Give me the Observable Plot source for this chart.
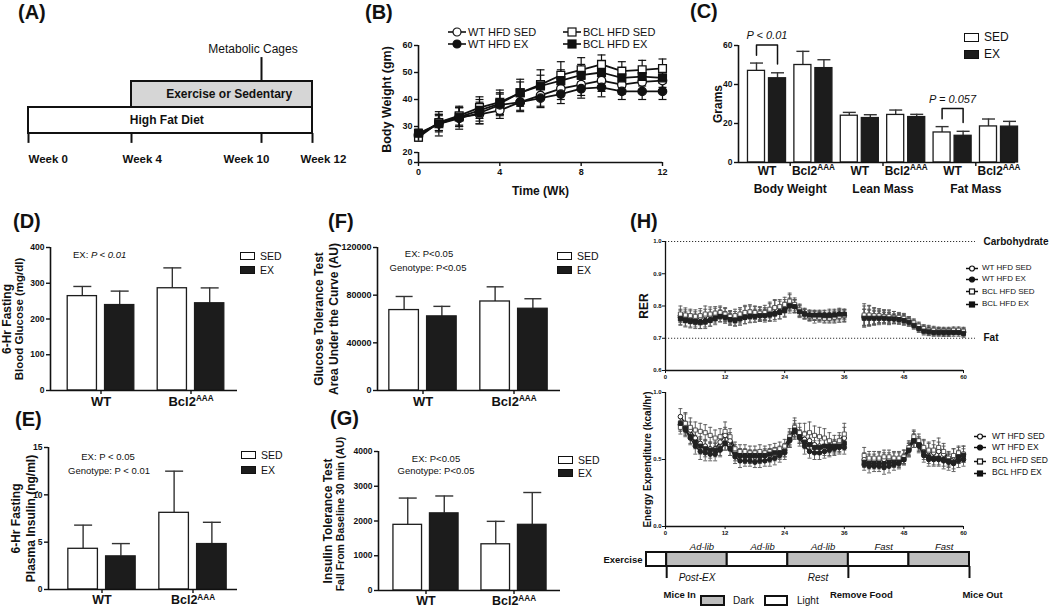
<!DOCTYPE html>
<html>
<head>
<meta charset="utf-8">
<script src="https://cdn.jsdelivr.net/npm/d3@7"></script>
<script src="https://cdn.jsdelivr.net/npm/@observablehq/plot@0.6"></script>
<style>
  html, body { margin: 0; padding: 0; background: #fff; }
  #root { position: relative; width: 1050px; height: 607px; overflow: hidden; background: #fff;
          font-family: "Liberation Sans", Arial, Helvetica, sans-serif; color: #111; }
  .panel { position: absolute; }
  .panel svg { overflow: visible; display: block; max-width: none !important; }
</style>
</head>
<body>
<div id="root"></div>
<script>
// ====================== DATA ======================
// (A) study timeline
const timelineWeeks = [0, 4, 10, 12];
const timelineLabels = ["Week 0", "Week 4", "Week 10", "Week 12"];
const phaseNames = ["High Fat Diet", "Exercise or Sedentary"];
const phaseStart = [0, 4];
const phaseEnd = [12, 12];
const cagesWeek = 10;
const cagesLabel = "Metabolic Cages";

// (B) body weight over time
const seriesNames = ["WT HFD SED", "WT HFD EX", "BCL HFD SED", "BCL HFD EX"];
const bWeeks = [0,1,2,3,4,5,6,7,8,9,10,11,12];
const bWtSed     = [26.5,31.5,33.5,34.5,36,39,41.5,44,45.5,47,45.5,46.5,47];
const bWtSedErr  = [1.5,3,3.5,3.5,3,3.5,4,4,4,4,3.5,3.5,3.5];
const bWtEx      = [27,31,33,35,38,39,40.5,42,44,44.5,43,43,43];
const bWtExErr   = [1.5,4.5,4,4,4,3,3.5,3.5,3.5,3.5,3,3,3];
const bBclSed    = [26,31.5,34,37,39,42.5,45.5,49,51,53,50.5,51,51.5];
const bBclSedErr = [1.5,3,3.5,4,4.5,5,5.5,5,4.5,3.5,3.5,3.5,3.5];
const bBclEx     = [27.5,31,33.5,36,38.5,42.5,45,47,49,50,48,48.5,48];
const bBclExErr  = [1.5,3,3.5,4,4,4,4,4,4,4,3.5,3.5,3.5];

// (C) body composition
const cMeasures = ["Body Weight", "Lean Mass", "Fat Mass"];
const cGroupGenotype = ["WT", "Bcl2AAA", "WT", "Bcl2AAA", "WT", "Bcl2AAA"];
const cSed    = [47, 50, 24, 24.4, 15.4, 18.5];
const cSedErr = [4, 7, 1.7, 2.5, 3, 3.8];
const cEx     = [43.2, 48.4, 22.8, 23.3, 13.7, 18.4];
const cExErr  = [2.8, 4.3, 1.7, 1.4, 2.3, 2.7];
const cBracketGroups = [0, 4];
const cBracketLabels = ["P < 0.01", "P = 0.057"];

// (D)-(G) genotype groups
const genotypes = ["WT", "Bcl2AAA"];
const dSed = [264, 286], dSedErr = [27, 57], dEx = [239, 244], dExErr = [39, 43];
const eSed = [4.3, 8.1], eSedErr = [2.5, 4.4], eEx = [3.5, 4.8], eExErr = [1.35, 2.3];
const fSed = [67500, 74700], fSedErr = [11400, 12300], fEx = [62200, 68600], fExErr = [8400, 8400];
const gSed = [1890, 1330], gSedErr = [770, 660], gEx = [2220, 1890], gExErr = [500, 930];

// (H) metabolic cages: hours since mice in
const hHours = [3,4,5,6,7,8,9,10,11,12, 13,14,15,16,17,18,19,20,21,22,23,24,
  25,26,27,28,29,30,31,32,33,34,35,36, 40,41,42,43,44,45,46,47,48,49,50,51,52,53,54,55,56,57,58,59,60];
const rerWtSed = [0.770,0.768,0.765,0.762,0.765,0.770,0.772,0.775,0.778,0.772,
  0.765,0.765,0.770,0.778,0.780,0.778,0.775,0.775,0.785,0.795,0.795,0.800,
  0.810,0.800,0.785,0.775,0.770,0.770,0.768,0.765,0.765,0.765,0.770,0.770,
  0.770,0.770,0.768,0.768,0.768,0.765,0.765,0.762,0.760,0.752,0.745,0.735,0.728,0.725,0.722,0.722,0.720,0.720,0.722,0.722,0.720];
const rerWtEx = [0.765,0.760,0.755,0.755,0.752,0.755,0.758,0.765,0.770,0.765,
  0.760,0.758,0.762,0.765,0.768,0.770,0.770,0.772,0.775,0.778,0.782,0.790,
  0.805,0.800,0.785,0.778,0.772,0.770,0.770,0.772,0.772,0.772,0.775,0.772,
  0.765,0.765,0.765,0.765,0.765,0.762,0.760,0.760,0.758,0.752,0.742,0.732,0.725,0.722,0.720,0.720,0.718,0.718,0.720,0.720,0.718];
const rerBclSed = [0.775,0.772,0.770,0.768,0.770,0.775,0.775,0.778,0.780,0.775,
  0.768,0.770,0.775,0.780,0.782,0.780,0.778,0.780,0.790,0.795,0.798,0.805,
  0.815,0.805,0.788,0.775,0.768,0.765,0.765,0.762,0.762,0.765,0.768,0.770,
  0.772,0.772,0.770,0.770,0.768,0.768,0.765,0.765,0.762,0.755,0.748,0.738,0.730,0.725,0.725,0.722,0.722,0.722,0.725,0.725,0.722];
const rerBclEx = [0.760,0.755,0.752,0.750,0.748,0.750,0.755,0.760,0.768,0.765,
  0.758,0.755,0.760,0.765,0.768,0.768,0.770,0.770,0.772,0.775,0.780,0.785,
  0.800,0.798,0.782,0.775,0.772,0.772,0.772,0.770,0.770,0.772,0.775,0.775,
  0.762,0.762,0.762,0.762,0.762,0.760,0.760,0.758,0.755,0.750,0.740,0.730,0.722,0.720,0.718,0.718,0.718,0.718,0.718,0.718,0.715];
const rerErrWtSed = [0.020,0.020,0.020,0.020,0.020,0.020,0.018,0.018,0.018,0.020,
  0.018,0.018,0.020,0.020,0.020,0.020,0.020,0.020,0.022,0.022,0.020,0.020,
  0.025,0.020,0.018,0.015,0.015,0.015,0.015,0.015,0.015,0.015,0.020,0.020,
  0.030,0.030,0.025,0.020,0.020,0.020,0.018,0.015,0.015,0.015,0.012,0.012,0.012,0.012,0.012,0.012,0.012,0.012,0.010,0.010,0.012];
const rerErrWtEx = [0.022,0.022,0.020,0.020,0.022,0.020,0.020,0.018,0.018,0.018,
  0.018,0.018,0.018,0.020,0.020,0.020,0.018,0.018,0.020,0.020,0.022,0.022,
  0.020,0.020,0.018,0.015,0.015,0.015,0.015,0.015,0.018,0.018,0.018,0.015,
  0.025,0.025,0.022,0.020,0.020,0.018,0.015,0.015,0.015,0.012,0.012,0.012,0.012,0.012,0.012,0.012,0.012,0.012,0.010,0.010,0.012];
const rerErrBclSed = [0.025,0.022,0.020,0.020,0.022,0.025,0.022,0.020,0.020,0.020,
  0.018,0.020,0.020,0.022,0.022,0.020,0.020,0.022,0.022,0.025,0.022,0.022,
  0.025,0.020,0.018,0.015,0.015,0.018,0.015,0.015,0.015,0.018,0.018,0.018,
  0.035,0.030,0.025,0.022,0.020,0.020,0.018,0.015,0.015,0.012,0.012,0.012,0.012,0.015,0.012,0.012,0.012,0.012,0.010,0.010,0.012];
const rerErrBclEx = [0.020,0.020,0.020,0.020,0.018,0.020,0.018,0.018,0.018,0.018,
  0.018,0.018,0.020,0.020,0.018,0.018,0.018,0.020,0.020,0.022,0.020,0.020,
  0.022,0.020,0.018,0.015,0.015,0.015,0.015,0.015,0.015,0.015,0.015,0.015,
  0.028,0.025,0.022,0.020,0.018,0.018,0.015,0.015,0.015,0.012,0.012,0.012,0.012,0.012,0.012,0.012,0.012,0.012,0.012,0.012,0.012];
const rerRefValues = [1.0, 0.7];
const rerRefLabels = ["Carbohydrate", "Fat"];

const eeWtSed = [0.82,0.77,0.72,0.66,0.62,0.60,0.58,0.58,0.63,0.68,
  0.64,0.56,0.53,0.52,0.52,0.52,0.52,0.53,0.53,0.54,0.55,0.57,
  0.65,0.72,0.68,0.65,0.64,0.61,0.60,0.59,0.58,0.59,0.62,0.66,
  0.50,0.49,0.49,0.50,0.50,0.50,0.50,0.50,0.52,0.58,0.65,0.62,0.58,0.56,0.55,0.56,0.54,0.50,0.52,0.53,0.54];
const eeWtEx = [0.76,0.72,0.66,0.60,0.56,0.55,0.54,0.54,0.57,0.62,
  0.58,0.52,0.49,0.49,0.49,0.48,0.49,0.49,0.50,0.51,0.53,0.55,
  0.64,0.71,0.66,0.60,0.56,0.55,0.55,0.56,0.57,0.58,0.59,0.59,
  0.46,0.45,0.45,0.45,0.44,0.45,0.46,0.47,0.50,0.57,0.64,0.60,0.53,0.50,0.50,0.50,0.49,0.48,0.47,0.49,0.50];
const eeBclSed = [0.74,0.77,0.74,0.72,0.71,0.70,0.68,0.66,0.67,0.71,
  0.67,0.58,0.56,0.56,0.55,0.55,0.56,0.55,0.56,0.57,0.58,0.60,
  0.67,0.74,0.70,0.69,0.70,0.68,0.67,0.66,0.64,0.62,0.64,0.69,
  0.53,0.51,0.51,0.51,0.52,0.52,0.51,0.51,0.52,0.59,0.67,0.64,0.59,0.57,0.57,0.59,0.56,0.51,0.53,0.55,0.54];
const eeBclEx = [0.77,0.73,0.67,0.63,0.60,0.58,0.57,0.57,0.58,0.62,
  0.58,0.54,0.53,0.53,0.53,0.53,0.53,0.53,0.54,0.55,0.55,0.56,
  0.65,0.72,0.67,0.63,0.61,0.59,0.59,0.60,0.60,0.60,0.60,0.62,
  0.48,0.47,0.47,0.47,0.47,0.48,0.48,0.48,0.50,0.57,0.64,0.61,0.55,0.52,0.51,0.51,0.50,0.49,0.48,0.52,0.53];
const eeErrWtSed = [0.06,0.07,0.06,0.06,0.05,0.05,0.05,0.05,0.05,0.06,
  0.06,0.05,0.05,0.05,0.05,0.05,0.05,0.05,0.05,0.05,0.05,0.05,
  0.06,0.07,0.06,0.06,0.06,0.06,0.06,0.06,0.05,0.05,0.06,0.08,
  0.05,0.05,0.05,0.05,0.05,0.05,0.05,0.05,0.05,0.05,0.06,0.05,0.06,0.06,0.06,0.07,0.06,0.05,0.06,0.06,0.06];
const eeErrWtEx = [0.05,0.05,0.05,0.06,0.06,0.06,0.05,0.05,0.05,0.05,
  0.05,0.05,0.05,0.04,0.04,0.04,0.05,0.04,0.05,0.05,0.05,0.05,
  0.05,0.05,0.06,0.06,0.05,0.05,0.05,0.05,0.05,0.05,0.05,0.05,
  0.04,0.05,0.04,0.04,0.05,0.05,0.04,0.04,0.04,0.05,0.05,0.05,0.05,0.05,0.05,0.05,0.06,0.06,0.06,0.05,0.05];
const eeErrBclSed = [0.05,0.08,0.07,0.06,0.06,0.06,0.06,0.06,0.06,0.07,
  0.06,0.05,0.05,0.05,0.05,0.05,0.05,0.05,0.05,0.05,0.05,0.05,
  0.06,0.07,0.07,0.08,0.08,0.07,0.07,0.07,0.06,0.06,0.06,0.08,
  0.06,0.05,0.05,0.05,0.05,0.05,0.05,0.05,0.05,0.05,0.05,0.05,0.06,0.06,0.07,0.07,0.06,0.05,0.05,0.05,0.06];
const eeErrBclEx = [0.05,0.05,0.05,0.05,0.06,0.06,0.06,0.05,0.05,0.05,
  0.05,0.05,0.05,0.05,0.04,0.04,0.04,0.04,0.04,0.04,0.04,0.04,
  0.05,0.05,0.05,0.05,0.05,0.05,0.05,0.05,0.05,0.05,0.05,0.05,
  0.04,0.04,0.04,0.04,0.04,0.04,0.04,0.04,0.04,0.05,0.05,0.05,0.05,0.05,0.05,0.05,0.05,0.05,0.05,0.05,0.05];

// (H) schedule
const schedStart = [-4, 0, 12, 24, 36, 48];
const schedEnd   = [0, 12, 24, 36, 48, 60];
const schedPhase = ["Light", "Dark", "Light", "Dark", "Light", "Dark"];
const schedFood  = ["", "Ad-lib", "Ad-lib", "Ad-lib", "Fast", "Fast"];
const schedNote  = ["", "Post-EX", "", "Rest", "", ""];
const eventHours = [0, 36, 60];
const eventLabels = ["Mice In", "Remove Food", "Mice Out"];

// ====================== HELPERS ======================
const FONT = '"Liberation Sans", Arial, Helvetica, sans-serif';
const INK = "#111";
const EXFILL = "#1c1c1c";
const root = document.getElementById("root");
const capSym = {draw(ctx, size) { const r = Math.sqrt(size / Math.PI); ctx.moveTo(-r, 0); ctx.lineTo(r, 0); }};
const seriesShape = ["circle", "circle", "square", "square"];
const seriesFilled = [false, true, false, true];

function baseStyle(fs) {
  return {background: "transparent", fontFamily: FONT, fontSize: fs + "px", fontWeight: "bold", overflow: "visible", color: INK};
}
function supify(svg) {
  const NS = "http://www.w3.org/2000/svg";
  svg.querySelectorAll("text").forEach(t => {
    if (t.textContent === "Bcl2AAA" && !t.querySelector("tspan")) {
      const base = t.getAttribute("font-size") || null;
      const big = base ? parseFloat(base) : 12;
      t.textContent = "";
      const a = document.createElementNS(NS, "tspan"); a.textContent = "Bcl2";
      const b = document.createElementNS(NS, "tspan"); b.textContent = "AAA";
      b.setAttribute("dy", String(-0.38 * big));
      b.setAttribute("font-size", String(0.68 * big));
      t.append(a, b);
    }
  });
}
function mount(svg, left, top, w) {
  const d = document.createElement("div");
  d.className = "panel";
  d.style.left = left + "px"; d.style.top = top + "px"; d.style.width = w + "px";
  d.appendChild(svg); root.appendChild(d);
  supify(svg);
}
function txt(x, y, html, o = {}) {
  const d = document.createElement("div");
  const tx = o.anchor === "middle" ? "-50%" : o.anchor === "end" ? "-100%" : "0";
  d.style.cssText = `position:absolute;left:${x}px;top:${y}px;transform:translate(${tx},-50%);` +
    `font-size:${o.size || 10}px;font-weight:${o.weight || "normal"};font-style:${o.style || "normal"};` +
    `line-height:1.15;white-space:nowrap;color:${INK}`;
  d.innerHTML = html;
  root.appendChild(d);
}
function box(x, y, w, h, fill, bw = 1.3) {
  const d = document.createElement("div");
  d.style.cssText = `position:absolute;left:${x}px;top:${y}px;width:${w}px;height:${h}px;box-sizing:border-box;border:${bw}px solid ${INK};background:${fill}`;
  root.appendChild(d);
}
function legendBoxes(x, y1, y2, w, h, textX, fs) {
  box(x, y1, w, h, "#fff"); txt(textX, y1 + h / 2, "SED", {size: fs});
  box(x, y2, w, h, EXFILL); txt(textX, y2 + h / 2, "EX", {size: fs});
}
function legendLine(cx, cy, half, s, r, label, textX, fs, sw) {
  const w = half * 2, h = r * 2 + 4;
  const d = document.createElement("div");
  d.style.cssText = `position:absolute;left:${cx - half}px;top:${cy - h / 2}px;width:${w}px;height:${h}px`;
  const fill = seriesFilled[s] ? INK : "#fff";
  const m = seriesShape[s] === "circle"
    ? `<circle cx="${half}" cy="${h / 2}" r="${r}" fill="${fill}" stroke="${INK}" stroke-width="1.2"/>`
    : `<rect x="${half - r}" y="${h / 2 - r}" width="${2 * r}" height="${2 * r}" fill="${fill}" stroke="${INK}" stroke-width="1.2"/>`;
  d.innerHTML = `<svg width="${w}" height="${h}" style="display:block;overflow:visible"><line x1="0" x2="${w}" y1="${h / 2}" y2="${h / 2}" stroke="${INK}" stroke-width="${sw}"/>${m}</svg>`;
  root.appendChild(d);
  txt(textX, cy, label, {size: fs});
}

// ====================== PANEL A ======================
{
  const phases = phaseNames.map((name, i) => ({name, start: phaseStart[i], end: phaseEnd[i], level: i}));
  const weeks = timelineWeeks.map((w, i) => ({w, label: timelineLabels[i]}));
  const weekDx = [0, -9, -38, -12];
  const mid = d => (d.start + d.end) / 2;
  // schematic (uneven) spacing of the timeline
  const schematic = d3.scaleLinear().domain([0, 4, 10, 12]).range([0, 103, 233, 284]);
  const svg = Plot.plot({
    width: 345, height: 180, marginLeft: 28, marginRight: 33, marginTop: 16, marginBottom: 8,
    x: {domain: [0, 284], transform: schematic, axis: null},
    y: {domain: [-1.5, 4.5], axis: null},
    style: baseStyle(12),
    marks: [
      Plot.rect(phases, {x1: "start", x2: "end", y1: "level", y2: d => d.level + 1,
        fill: d => d.level ? "#d6d6d6" : "#fff", stroke: INK, strokeWidth: 2}),
      Plot.text(phases.filter(d => d.level === 0), {x: mid, y: d => d.level + 0.5, text: "name", dx: -8, fontSize: 12}),
      Plot.text(phases.filter(d => d.level === 1), {x: mid, y: d => d.level + 0.5, text: "name", dx: 11, fontSize: 12}),
      Plot.ruleX(weeks, {x: "w", y1: -0.38, y2: 0, stroke: INK, strokeWidth: 2}),
      ...weeks.map((d, i) => Plot.text([d], {x: "w", y: -1, text: "label", textAnchor: "start", dx: weekDx[i], fontSize: 11.5})),
      Plot.ruleX([cagesWeek], {y1: 2, y2: 2.92, stroke: INK, strokeWidth: 2}),
      Plot.text([cagesLabel], {x: cagesWeek, y: 3.23, dx: -8.5, fontSize: 12, fontWeight: "normal"})
    ]
  });
  mount(svg, 0, 0, 345);
}

// ====================== PANEL B ======================
{
  const vals = [bWtSed, bWtEx, bBclSed, bBclEx];
  const errs = [bWtSedErr, bWtExErr, bBclSedErr, bBclExErr];
  const rows = [];
  vals.forEach((arr, s) => arr.forEach((v, i) => rows.push({s, w: bWeeks[i], v, e: errs[s][i]})));
  const axisSegs = [{x: 0, from: 0, to: 20}, {x: 0, from: 24.5, to: 60}];
  // broken y axis: 0-20 compressed, then 25-60
  const broken = d3.scaleLinear().domain([0, 20, 25, 60]).range([0, 10, 22.5, 117]);
  const svg = Plot.plot({
    width: 340, height: 200, marginLeft: 68, marginRight: 28, marginTop: 45, marginBottom: 38,
    x: {domain: [0, 12]},
    y: {domain: [0, 117], transform: broken},
    style: baseStyle(9),
    marks: [
      Plot.ruleX(rows, {x: "w", y1: d => d.v - d.e, y2: d => d.v + d.e, stroke: INK, strokeWidth: 1.2}),
      Plot.dot(rows, {x: "w", y: d => d.v + d.e, symbol: capSym, r: 4, stroke: INK, fill: "none", strokeWidth: 1.2}),
      Plot.dot(rows, {x: "w", y: d => d.v - d.e, symbol: capSym, r: 4, stroke: INK, fill: "none", strokeWidth: 1.2}),
      Plot.line(rows, {x: "w", y: "v", z: "s", stroke: INK, strokeWidth: 1.8}),
      ...[0, 1, 2, 3].map(s => Plot.dot(rows.filter(d => d.s === s), {x: "w", y: "v", symbol: seriesShape[s],
        r: seriesShape[s] === "circle" ? 4.2 : 4.4, fill: seriesFilled[s] ? INK : "#fff", stroke: INK, strokeWidth: 1.3})),
      Plot.ruleX(axisSegs, {x: "x", y1: "from", y2: "to", stroke: INK, strokeWidth: 1.6}),
      Plot.ruleY([0], {stroke: INK, strokeWidth: 1.6}),
      Plot.axisY([0, 20, 30, 40, 50, 60], {tickSize: 4, tickPadding: 2, strokeWidth: 1.4, fontSize: 9, label: null}),
      Plot.axisX({ticks: [0, 4, 8, 12], tickSize: 4, tickPadding: 2, strokeWidth: 1.4, fontSize: 9, label: null}),
      Plot.text(["Body Weight (gm)"], {frameAnchor: "left", rotate: -90, textAnchor: "middle", lineAnchor: "middle", dx: -32, dy: -4.5, fontSize: 12.5}),
      Plot.text(["Time (Wk)"], {frameAnchor: "bottom", textAnchor: "middle", dy: 32, fontSize: 12})
    ]
  });
  mount(svg, 350, 0, 340);
  legendLine(457, 32, 9, 0, 4, seriesNames[0], 468, 11, 1.6);
  legendLine(457, 44, 9, 1, 4, seriesNames[1], 468, 11, 1.6);
  legendLine(572, 32, 9, 2, 4, seriesNames[2], 583, 11, 1.6);
  legendLine(572, 44, 9, 3, 4, seriesNames[3], 583, 11, 1.6);
}

// ====================== BAR PANELS ======================
function barPanel(c) {
  const bars = [];
  c.sed.forEach((v, i) => {
    bars.push({i, cond: "SED", v, e: c.sedErr[i], x1: i + c.frac[0][0], x2: i + c.frac[0][1]});
    bars.push({i, cond: "EX", v: c.ex[i], e: c.exErr[i], x1: i + c.frac[1][0], x2: i + c.frac[1][1]});
  });
  const xd = [(c.axis[0] - c.gs) / c.gw, (c.axis[1] - c.gs) / c.gw];
  const mid = d => (d.x1 + d.x2) / 2;
  const marks = [
    Plot.ruleX(bars, {x: mid, y1: "v", y2: d => d.v + d.e, stroke: "#333", strokeWidth: 1.4}),
    Plot.dot(bars, {x: mid, y: d => d.v + d.e, symbol: capSym, r: c.capR, stroke: "#333", fill: "none", strokeWidth: 1.4}),
    Plot.rect(bars, {x1: "x1", x2: "x2", y1: 0, y2: "v", fill: d => d.cond === "SED" ? "#fff" : EXFILL, stroke: EXFILL, strokeWidth: 1.3}),
    Plot.ruleX([xd[0]], {stroke: INK, strokeWidth: 1.6}),
    Plot.ruleY([0], {stroke: INK, strokeWidth: 1.6}),
    Plot.axisY({ticks: c.yTicks, tickFormat: d3.format("d"), tickSize: 4, tickPadding: 2, strokeWidth: 1.4, fontSize: c.tickFont, label: null}),
    ...c.yLabels.map(t => Plot.text([t.text], {frameAnchor: "left", rotate: -90, textAnchor: "middle", lineAnchor: "middle",
      dx: t.dx, dy: t.dy || 0, fontSize: t.size}))
  ];
  if (c.extra) marks.push(...c.extra(bars));
  else marks.push(Plot.axisX({ticks: c.sed.map((_, i) => i + 0.5), tickFormat: d => genotypes[Math.floor(d)],
    tickSize: 4, tickPadding: 2, strokeWidth: 1.4, fontSize: c.xFont, label: null}));
  const svg = Plot.plot({
    width: c.width, height: c.height,
    marginLeft: c.axis[0] - c.left, marginRight: c.left + c.width - c.axis[1],
    marginTop: c.yTop - c.top, marginBottom: c.top + c.height - c.yBottom,
    x: {domain: xd}, y: {domain: c.yDomain},
    style: baseStyle(c.tickFont),
    marks
  });
  mount(svg, c.left, c.top, c.width);
}

// ---- C ----
barPanel({
  left: 690, top: 0, width: 360, height: 200, axis: [738, 1015], gs: 743.3, gw: 46.4,
  yTop: 45, yBottom: 162, yDomain: [0, 60], yTicks: [0, 20, 40, 60], tickFont: 8.5,
  frac: [[0.09, 0.457], [0.543, 0.91]], capR: 6.5,
  sed: cSed, sedErr: cSedErr, ex: cEx, exErr: cExErr,
  yLabels: [{text: "Grams", dx: -20, size: 12}],
  extra: bars => {
    const lab = cGroupGenotype.map((g, i) => ({x: i + 0.5, g}));
    const meas = cMeasures.map((m, k) => ({x: 2 * k + 1, m}));
    const br = [];
    const brLab = [];
    cBracketGroups.forEach((g, k) => {
      const s = bars.find(b => b.i === g && b.cond === "SED");
      const e = bars.find(b => b.i === g && b.cond === "EX");
      const xl = (s.x1 + s.x2) / 2, xr = (e.x1 + e.x2) / 2;
      const yl = s.v + s.e + 4, yr = e.v + e.e + 4.5, top = yl + 5.3;
      br.push({k, x: xl, y: yl}, {k, x: xl, y: top}, {k, x: xr, y: top}, {k, x: xr, y: yr});
      brLab.push({x: (xl + xr) / 2, y: top, label: cBracketLabels[k]});
    });
    return [
      Plot.axisX({ticks: [1, 3, 5], tickFormat: () => "", tickSize: 4, strokeWidth: 1.4, label: null}),
      Plot.text(lab, {x: "x", text: "g", frameAnchor: "bottom", dy: 12, fontSize: 12}),
      Plot.text(meas, {x: "x", text: "m", frameAnchor: "bottom", dy: 30, fontSize: 12}),
      Plot.line(br, {x: "x", y: "y", z: "k", stroke: INK, strokeWidth: 1.5}),
      Plot.text(brLab, {x: "x", y: "y", text: "label", dy: -9, fontSize: 11, fontWeight: "normal", fontStyle: "italic"})
    ];
  }
});
legendBoxes(964, 33, 50, 15, 9, 984, 12);

// ---- D ----
barPanel({
  left: 0, top: 235, width: 330, height: 170, axis: [50, 237], gs: 55.5, gw: 90,
  yTop: 247, yBottom: 390, yDomain: [0, 400], yTicks: [0, 100, 200, 300, 400], tickFont: 8.5,
  frac: [[0.13, 0.455], [0.545, 0.87]], capR: 9, xFont: 13,
  sed: dSed, sedErr: dSedErr, ex: dEx, exErr: dExErr,
  yLabels: [{text: "6-Hr Fasting", dx: -43, size: 12}, {text: "Blood Glucose (mg/dl)", dx: -31, size: 11.5}]
});
txt(73, 255, "EX: <i>P &lt; 0.01</i>", {size: 9.5});
legendBoxes(240, 252, 266, 15, 8, 260, 10.5);

// ---- E ----
barPanel({
  left: 0, top: 440, width: 330, height: 167, axis: [48, 237], gs: 56, gw: 91,
  yTop: 447, yBottom: 589, yDomain: [0, 15], yTicks: [0, 5, 10, 15], tickFont: 8.5,
  frac: [[0.13, 0.455], [0.545, 0.87]], capR: 9, xFont: 12.5,
  sed: eSed, sedErr: eSedErr, ex: eEx, exErr: eExErr,
  yLabels: [{text: "6-Hr Fasting", dx: -32, size: 12}, {text: "Plasma Insulin (ng/ml)", dx: -17, size: 12}]
});
txt(108, 457, "EX: P &lt; 0.05", {size: 9.5, anchor: "middle"});
txt(109, 471, "Genotype: P &lt; 0.01", {size: 9.5, anchor: "middle"});
legendBoxes(241, 451, 466, 15, 8, 261, 10.5);

// ---- F ----
barPanel({
  left: 330, top: 235, width: 330, height: 170, axis: [377, 560], gs: 377, gw: 91,
  yTop: 247, yBottom: 390, yDomain: [0, 120000], yTicks: [0, 40000, 80000, 120000], tickFont: 9,
  frac: [[0.13, 0.455], [0.545, 0.87]], capR: 8.5, xFont: 13,
  sed: fSed, sedErr: fSedErr, ex: fEx, exErr: fExErr,
  yLabels: [{text: "Glucose Tolerance Test", dx: -58, size: 12}, {text: "Area Under the Curve (AU)", dx: -43, size: 12}]
});
txt(429, 254, "EX: P&lt;0.05", {size: 9.5, anchor: "middle"});
txt(428, 268, "Genotype: P&lt;0.05", {size: 9.5, anchor: "middle"});
legendBoxes(557, 252, 266, 15, 8, 577, 10.5);

// ---- G ----
barPanel({
  left: 330, top: 440, width: 330, height: 167, axis: [378, 560], gs: 381.5, gw: 88,
  yTop: 451, yBottom: 590, yDomain: [0, 4000], yTicks: [0, 1000, 2000, 3000, 4000], tickFont: 8.5,
  frac: [[0.13, 0.455], [0.545, 0.87]], capR: 9, xFont: 12.5,
  sed: gSed, sedErr: gSedErr, ex: gEx, exErr: gExErr,
  yLabels: [{text: "Insulin Tolerance Test", dx: -50, size: 12}, {text: "Fall From Baseline 30 min (AU)", dx: -38, dy: -7, size: 10.5}]
});
txt(436, 459, "EX: P&lt;0.05", {size: 9.5, anchor: "middle"});
txt(436, 471, "Genotype: P&lt;0.05", {size: 9.5, anchor: "middle"});
legendBoxes(558, 456, 469, 15, 8, 578, 10.5);

// ====================== PANEL H ======================
function hPlot(c) {
  const rows = [];
  c.vals.forEach((arr, s) => arr.forEach((v, i) => rows.push({s, h: hHours[i], v, e: c.errs[s][i], seg: hHours[i] > 38 ? 1 : 0})));
  const marks = [
    ...(c.refs || []),
    Plot.ruleX(rows, {x: "h", y1: d => d.v - d.e, y2: d => d.v + d.e, stroke: "#555", strokeWidth: 0.9}),
    Plot.dot(rows, {x: "h", y: d => d.v + d.e, symbol: capSym, r: 2, stroke: "#555", fill: "none", strokeWidth: 0.9}),
    Plot.dot(rows, {x: "h", y: d => d.v - d.e, symbol: capSym, r: 2, stroke: "#555", fill: "none", strokeWidth: 0.9}),
    Plot.line(rows, {x: "h", y: "v", z: d => d.s * 2 + d.seg, stroke: "#222", strokeWidth: 1.5}),
    ...[0, 1, 2, 3].map(s => Plot.dot(rows.filter(d => d.s === s), {x: "h", y: "v", symbol: seriesShape[s], r: 2.3,
      fill: seriesFilled[s] ? "#222" : "#fff", stroke: s === 2 ? "#555" : "#222", strokeWidth: 1})),
    Plot.ruleX([0], {stroke: INK, strokeWidth: 1.3}),
    Plot.ruleY([c.yDomain[0]], {stroke: INK, strokeWidth: 1.3}),
    Plot.axisX({ticks: [0, 12, 24, 36, 48, 60], tickSize: 3, tickPadding: 1, fontSize: 6, strokeWidth: 1, label: null}),
    Plot.axisY({ticks: c.yTicks, tickFormat: d3.format(".1f"), tickSize: 3, tickPadding: 1, fontSize: 6, strokeWidth: 1, label: null}),
    Plot.text([c.label], {frameAnchor: "left", rotate: -90, textAnchor: "middle", lineAnchor: "middle", dx: c.labelDx, fontSize: c.labelSize})
  ];
  const svg = Plot.plot({
    width: 400, height: 160, marginLeft: 15, marginRight: 87, marginTop: c.mt, marginBottom: c.mb,
    x: {domain: [0, 60]}, y: {domain: c.yDomain},
    style: baseStyle(6), marks
  });
  mount(svg, 650, c.top, 400);
}
{
  const refs = rerRefValues.map((v, i) => ({v, label: rerRefLabels[i]}));
  hPlot({
    top: 225, mt: 16, mb: 15, yDomain: [0.6, 1.0], yTicks: [0.6, 0.7, 0.8, 0.9, 1.0],
    vals: [rerWtSed, rerWtEx, rerBclSed, rerBclEx], errs: [rerErrWtSed, rerErrWtEx, rerErrBclSed, rerErrBclEx],
    label: "RER", labelDx: -21, labelSize: 12,
    refs: [
      Plot.ruleY(refs, {y: "v", stroke: "#333", strokeWidth: 1, strokeDasharray: "1.2,1.8", insetRight: -12}),
      Plot.text(refs, {y: "v", text: "label", frameAnchor: "right", textAnchor: "start", dx: 20, fontSize: 10})
    ]
  });
  hPlot({
    top: 380, mt: 12, mb: 14, yDomain: [0, 1.0], yTicks: [0, 0.5, 1.0],
    vals: [eeWtSed, eeWtEx, eeBclSed, eeBclEx], errs: [eeErrWtSed, eeErrWtEx, eeErrBclSed, eeErrBclEx],
    label: "Energy Expenditure (kcal/hr)", labelDx: -18, labelSize: 10
  });
  [268.3, 279.3, 291.7, 304].forEach((y, s) => legendLine(972, y, 6, s, 2.5, seriesNames[s], 982, 8, 1.5));
  [436.7, 447.7, 461, 473.3].forEach((y, s) => legendLine(980, y, 6, s, 2.5, seriesNames[s], 992, 8.5, 1.5));
}
// ---- schedule ----
{
  const periods = schedStart.map((s, i) => ({start: s, end: schedEnd[i], phase: schedPhase[i], food: schedFood[i], note: schedNote[i]}));
  const events = eventHours.map((h, i) => ({h, label: eventLabels[i]}));
  const mid = d => (d.start + d.end) / 2;
  const svg = Plot.plot({
    width: 410, height: 68, marginLeft: 6, marginRight: 81, marginTop: 3.6, marginBottom: 0,
    x: {domain: [-4, 60], axis: null}, y: {domain: [-3, 1.6], axis: null},
    style: baseStyle(9.5),
    marks: [
      Plot.rect(periods, {x1: "start", x2: "end", y1: 0, y2: 1, fill: d => d.phase === "Dark" ? "#bdbdbd" : "#fff", stroke: INK, strokeWidth: 2}),
      Plot.ruleX(events, {x: "h", y1: -0.86, y2: 0, stroke: INK, strokeWidth: 2}),
      Plot.text(periods, {x: mid, y: 1, dy: -5.5, dx: 5, text: "food", fontSize: 9.5, fontWeight: "normal", fontStyle: "italic"}),
      Plot.text(periods, {x: mid, y: -0.79, text: "note", fontSize: 10, fontWeight: "normal", fontStyle: "italic"}),
      Plot.text(events, {x: "h", y: -2, dx: 13, text: "label", fontSize: 9.5}),
      Plot.text(["Exercise"], {x: -4, y: 0.45, dx: -4, textAnchor: "end", fontSize: 9.5})
    ]
  });
  mount(svg, 640, 540, 410);
  box(700, 595, 25, 11, "#bdbdbd", 2); txt(733, 601, "Dark", {size: 10});
  box(764, 595, 24, 11, "#fff", 2); txt(797, 601, "Light", {size: 10});
}

// ====================== PANEL LABELS ======================
[["(A)", 18, 12], ["(B)", 365, 11.5], ["(C)", 690, 11], ["(D)", 13, 221], ["(E)", 15, 419],
 ["(F)", 328, 221], ["(G)", 330, 418], ["(H)", 630, 221]].forEach(([t, x, y]) => txt(x, y, t, {size: 20, weight: "bold"}));
</script>
</body>
</html>
